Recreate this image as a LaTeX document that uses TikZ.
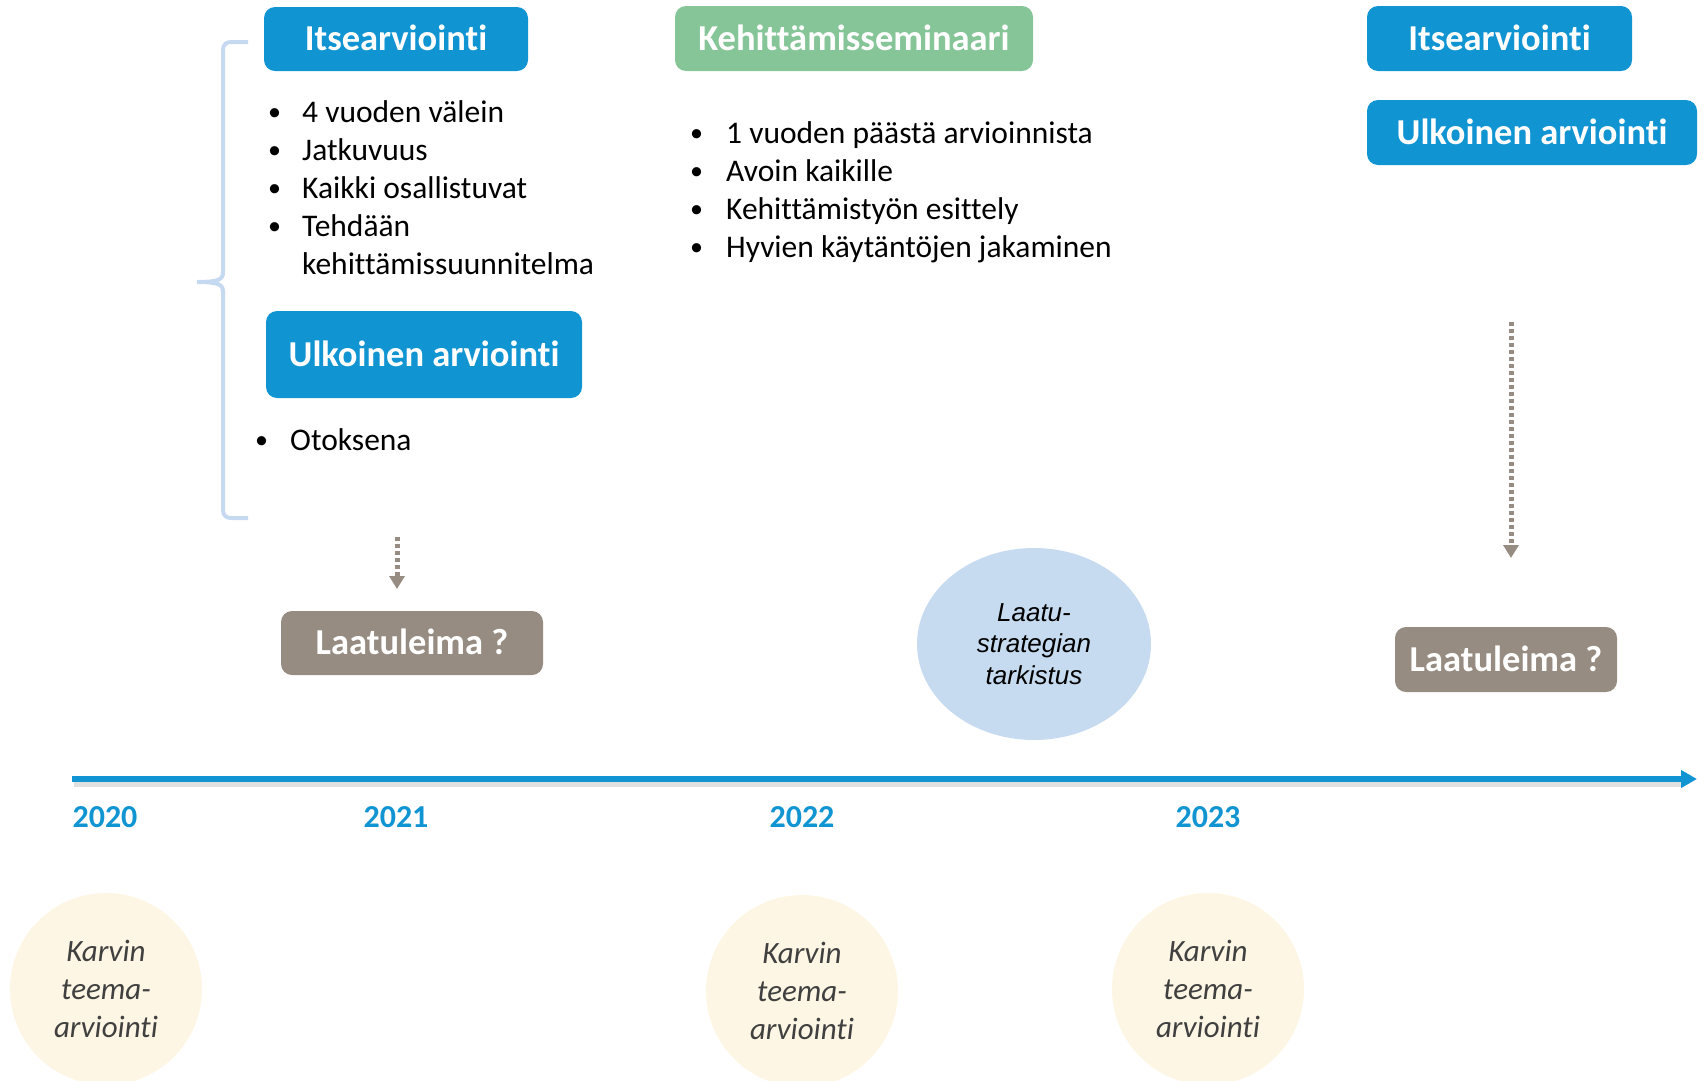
\documentclass[tikz,border=0pt]{standalone}
\usepackage{fontspec}
\setmainfont{Carlito}[Ligatures=NoCommon]
\newfontfamily\arialfont{Liberation Sans}
\usetikzlibrary{arrows.meta,shapes.geometric}
\definecolor{boxblue}{RGB}{17,148,210}
\definecolor{boxgreen}{RGB}{134,197,152}
\definecolor{boxgray}{RGB}{150,140,129}
\definecolor{ellblue}{RGB}{198,219,239}
\definecolor{cream}{RGB}{254,246,228}
\definecolor{bracecol}{RGB}{197,218,240}
\definecolor{circtext}{RGB}{64,64,64}
\newcommand{\bul}[1]{\makebox[#1][l]{\raisebox{1.5pt}{\fontsize{26}{26}\selectfont •}}}
\begin{document}
\begin{tikzpicture}[x=1pt,y=-1pt,
  hbox/.style={rectangle, rounded corners=11pt, text=white, inner sep=0pt,
    font=\fontsize{36.5}{44}\selectfont\bfseries, text height=23.5pt, text depth=0pt},
  bluebox/.style={hbox, fill=boxblue},
  greenbox/.style={hbox, fill=boxgreen},
  graybox/.style={hbox, fill=boxgray},
  listtext/.style={anchor=base west, inner sep=0pt, font=\fontsize{31.5}{38}\selectfont, text=black},
  yeartext/.style={anchor=base, inner sep=0pt, font=\fontsize{32}{38}\selectfont\bfseries, text=boxblue},
  teema/.style={circle, fill=cream, minimum size=192pt, inner sep=0pt, align=center,
    font=\fontsize{31}{38}\selectfont\itshape, text=circtext},
  dotarrow/.style={draw=boxgray, line width=5pt, dash pattern=on 4pt off 3pt,
    -{Triangle[length=13pt,width=15pt]}},
  bracestyle/.style={draw=bracecol, line width=4pt}
]
\useasboundingbox (0,0) rectangle (1706,1080);
\clip (0,0) rectangle (1706,1080);

% brace
\path[bracestyle] (248,42) -- (231,42) .. controls (226,42) and (223,45) .. (223,50)
  -- (223,272) .. controls (223,279) and (220,282) .. (197,282)
  .. controls (220,282) and (223,285) .. (223,292)
  -- (223,510) .. controls (223,515) and (226,518) .. (231,518) -- (248,518);

% boxes
\node[bluebox, minimum width=264pt, minimum height=64pt] (its1) at (396,39) {Itsearviointi};
\node[bluebox, minimum width=316pt, minimum height=87pt] (ulk1) at (424,354.5) {Ulkoinen arviointi};
\node[graybox, minimum width=262pt, minimum height=64pt] (laa1) at (412,643) {Laatuleima ?};
\node[greenbox, minimum width=358pt, minimum height=65pt] (kehi) at (854,38.5) {Kehittämisseminaari};
\node[bluebox, minimum width=265pt, minimum height=65pt] (its2) at (1499.5,38.5) {Itsearviointi};
\node[bluebox, minimum width=330pt, minimum height=65pt] (ulk2) at (1532,132.5) {Ulkoinen arviointi};
\node[graybox, minimum width=222pt, minimum height=65pt] (laa2) at (1506,659.5) {Laatuleima ?};

% bullet lists
\node[listtext] (list1) at (268,122) {\begin{tabular}[t]{@{}l@{}l@{}}
\bul{34pt} & 4 vuoden välein\\
\bul{34pt} & Jatkuvuus\\
\bul{34pt} & Kaikki osallistuvat\\
\bul{34pt} & Tehdään\\
 & kehittämissuunnitelma
\end{tabular}};
\node[listtext] (list2) at (255,450) {\bul{35pt}Otoksena};
\node[listtext] (list3) at (690,143) {\begin{tabular}[t]{@{}l@{}l@{}}
\bul{36pt} & 1 vuoden päästä arvioinnista\\
\bul{36pt} & Avoin kaikille\\
\bul{36pt} & Kehittämistyön esittely\\
\bul{36pt} & Hyvien käytäntöjen jakaminen
\end{tabular}};

% dotted arrows
\coordinate (a1s) at (397,537);
\coordinate (a1e) at (397,589);
\coordinate (a2s) at (1511,322);
\coordinate (a2e) at (1511,558);
\draw[dotarrow] (a1s) -- (a1e);
\draw[dotarrow] (a2s) -- (a2e);

% ellipse
\node[ellipse, fill=ellblue, minimum width=234pt, minimum height=192pt, inner sep=0pt,
  align=center, font=\arialfont\itshape\fontsize{26}{31.5}\selectfont] (strat) at (1034,644)
  {Laatu-\\strategian\\tarkistus};

% timeline
\coordinate (tl0) at (72,779);
\coordinate (tl1) at (1697,779);
\coordinate (sh0) at (74,784);
\coordinate (sh1) at (1682,784);
\draw[line width=6pt, black, opacity=0.12] (sh0) -- (sh1);
\draw[line width=6pt, boxblue, -{Triangle[length=16pt,width=17pt]}] (tl0) -- (tl1);

% years
\node[yeartext] (y2020) at (105,827) {2020};
\node[yeartext] (y2021) at (396,827) {2021};
\node[yeartext] (y2022) at (802,827) {2022};
\node[yeartext] (y2023) at (1208,827) {2023};

% bottom circles
\node[teema] (k2020) at (106,989) {Karvin\\teema-\\arviointi};
\node[teema] (k2022) at (802,991) {Karvin\\teema-\\arviointi};
\node[teema] (k2023) at (1208,989) {Karvin\\teema-\\arviointi};
\end{tikzpicture}
\end{document}
